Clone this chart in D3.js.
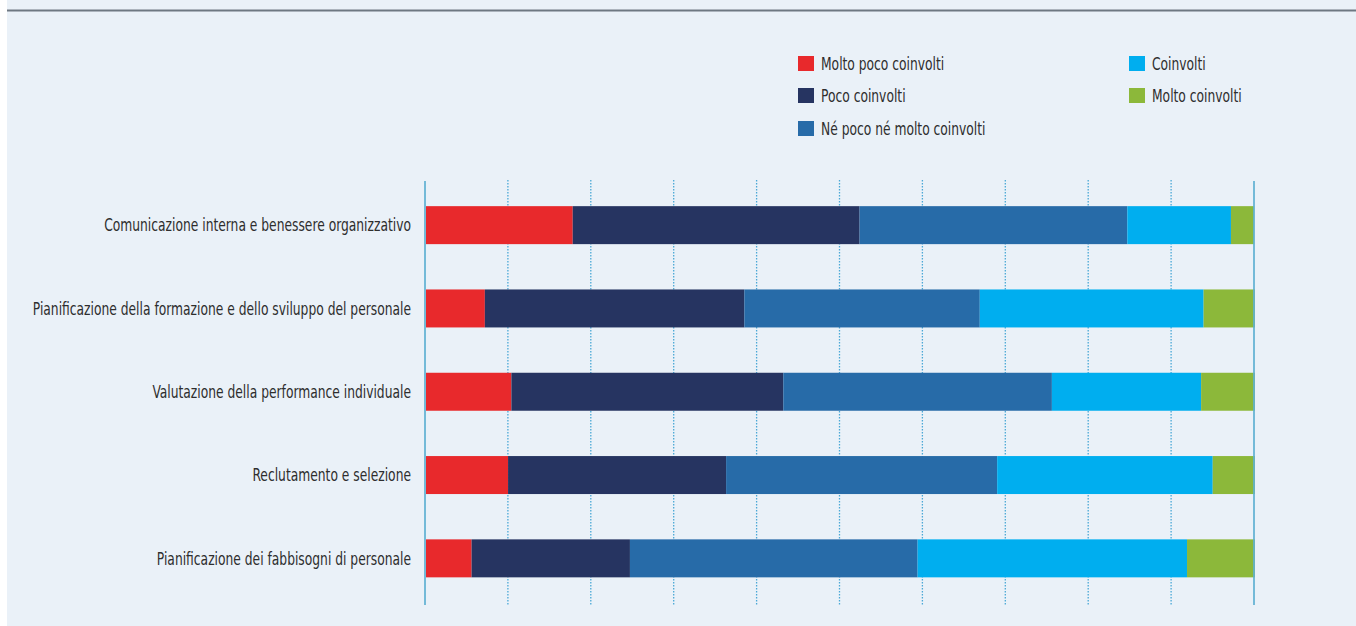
<!DOCTYPE html>
<html>
<head>
<meta charset="utf-8">
<script src="https://cdn.jsdelivr.net/npm/d3@7"></script>
<style>
  html, body { margin: 0; padding: 0; background: #ffffff; }
  svg { display: block; }
  text { font-family: "DejaVu Sans Condensed", "Liberation Sans Narrow", sans-serif; fill: #2e2e2e; }
</style>
</head>
<body>
<svg id="chart" width="1356" height="626"></svg>
<script>
// Survey areas (top to bottom)
const categories = [
  "Comunicazione interna e benessere organizzativo",
  "Pianificazione della formazione e dello sviluppo del personale",
  "Valutazione della performance individuale",
  "Reclutamento e selezione",
  "Pianificazione dei fabbisogni di personale"
];

// Involvement levels
const seriesNames = [
  "Molto poco coinvolti",
  "Poco coinvolti",
  "Né poco né molto coinvolti",
  "Coinvolti",
  "Molto coinvolti"
];

// Percentages per level, one value per area
const moltoPoco   = [17.7,  7.1, 10.3,  9.9,  5.5];
const poco        = [34.6, 31.3, 32.8, 26.3, 19.1];
const neNe        = [32.3, 28.4, 32.4, 32.7, 34.7];
const coinvolti   = [12.5, 27.0, 18.0, 26.0, 32.5];
const moltoCoinv  = [ 2.8,  6.2,  6.5,  5.1,  8.2];

const gridTicks = [0, 10, 20, 30, 40, 50, 60, 70, 80, 90, 100];

const colors = ["#e8292c", "#263461", "#276ba8", "#00aeef", "#8cb83a"];

const rows = categories.map((c, i) => ({
  category: c,
  "Molto poco coinvolti": moltoPoco[i],
  "Poco coinvolti": poco[i],
  "Né poco né molto coinvolti": neNe[i],
  "Coinvolti": coinvolti[i],
  "Molto coinvolti": moltoCoinv[i]
}));

// Horizontal squeeze that gives the text a condensed look
const condense = 0.76;

const svg = d3.select("#chart");

// Panel background and top rule
svg.append("rect").attr("x", 7).attr("y", 0).attr("width", 1349).attr("height", 626).attr("fill", "#eaf1f8");
svg.append("rect").attr("x", 7).attr("y", 9.5).attr("width", 1349).attr("height", 2).attr("fill", "#6e7882");

const x = d3.scaleLinear().domain([0, 100]).range([425, 1254]);
const y = d3.scaleBand().domain(categories).range([183.5, 600]).paddingInner(0.544).paddingOuter(0.272);
const color = d3.scaleOrdinal().domain(seriesNames).range(colors);

// Dotted grid lines
svg.append("g").selectAll("line")
  .data(gridTicks.slice(1, -1))
  .join("line")
  .attr("x1", d => x(d)).attr("x2", d => x(d))
  .attr("y1", 180).attr("y2", 605)
  .attr("stroke", "#4aa8d6")
  .attr("stroke-width", 1.3)
  .attr("stroke-dasharray", "1.5,1.5");

// Stacked bars
const stack = d3.stack().keys(seriesNames);
const layers = stack(rows);

svg.append("g").selectAll("g")
  .data(layers)
  .join("g")
  .attr("fill", d => color(d.key))
  .selectAll("rect")
  .data(d => d)
  .join("rect")
  .attr("x", d => x(d[0]) + 1)
  .attr("y", d => y(d.data.category))
  .attr("width", d => x(d[1]) - x(d[0]))
  .attr("height", y.bandwidth());

// Boundary axis lines at 0% and 100%
svg.append("g").selectAll("line")
  .data([0, 100])
  .join("line")
  .attr("x1", d => x(d)).attr("x2", d => x(d))
  .attr("y1", 181).attr("y2", 605)
  .attr("stroke", "#5fb0d2")
  .attr("stroke-opacity", 0.85)
  .attr("stroke-width", 2);

// Category labels
svg.append("g").selectAll("text")
  .data(categories)
  .join("text")
  .attr("transform", d => `translate(411,${y(d) + y.bandwidth() / 2}) scale(${condense},1)`)
  .attr("dy", "0.35em")
  .attr("text-anchor", "end")
  .attr("font-size", 18)
  .text(d => d);

// Legend
const legendPos = [
  [798, 56], [798, 88], [798, 121], [1129, 56], [1129, 88]
];
const legend = svg.append("g").selectAll("g")
  .data(seriesNames)
  .join("g")
  .attr("transform", (d, i) => `translate(${legendPos[i][0]},${legendPos[i][1]})`);
legend.append("rect").attr("width", 16).attr("height", 15).attr("fill", d => color(d));
legend.append("text")
  .attr("transform", `translate(23,7.5) scale(${condense},1)`)
  .attr("dy", "0.35em")
  .attr("font-size", 18)
  .text(d => d);
</script>
</body>
</html>
